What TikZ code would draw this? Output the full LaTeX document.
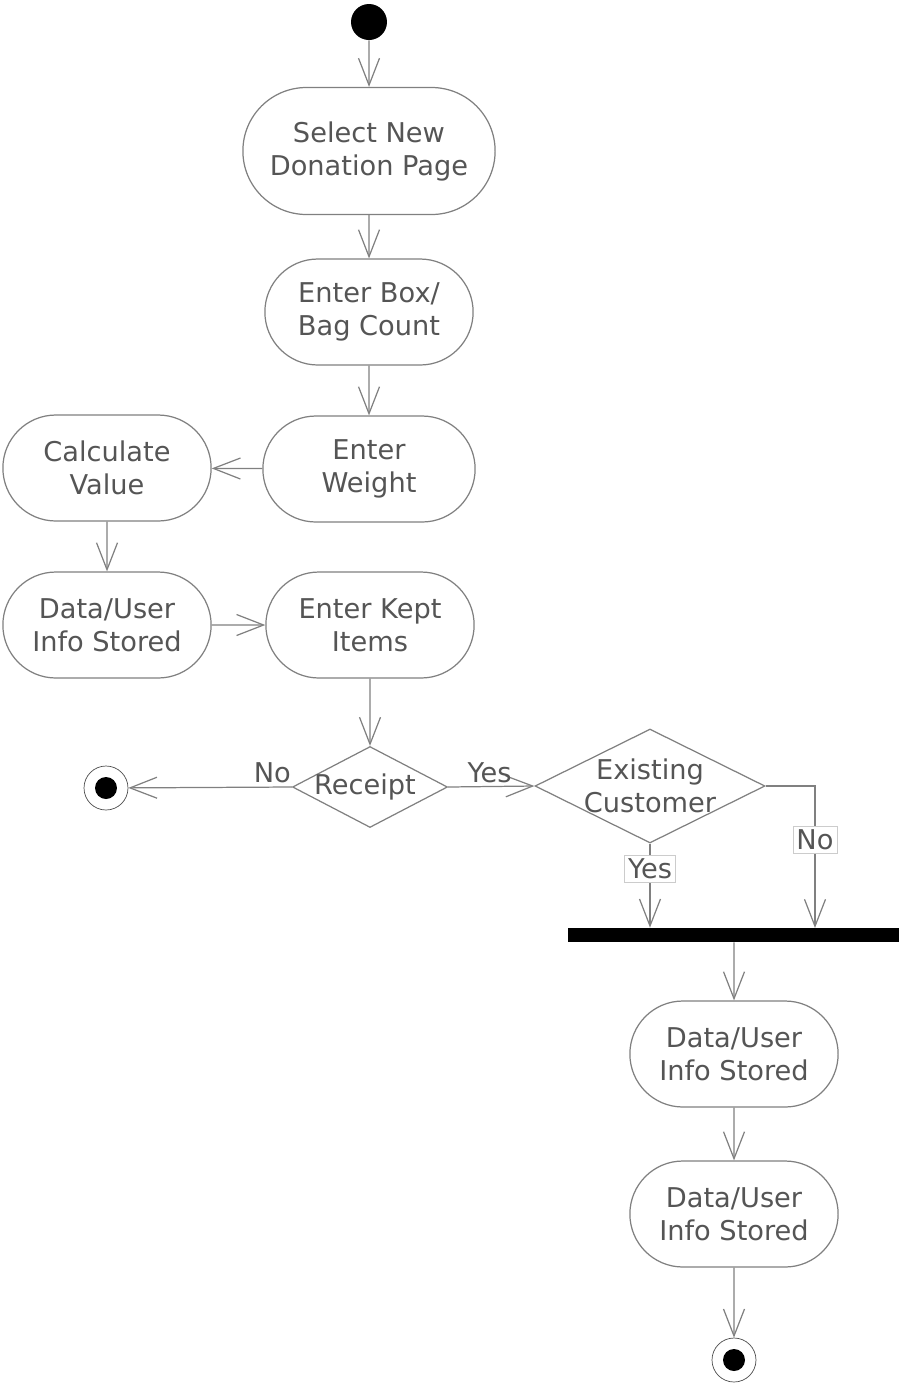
\documentclass[tikz,border=0pt]{standalone}
\usepackage{fontspec}
\setmainfont{DejaVu Sans}
\usetikzlibrary{shapes.misc,shapes.geometric,arrows.meta}
\definecolor{trait}{RGB}{128,128,128}
\definecolor{encre}{RGB}{85,85,85}

\begin{document}
\begin{tikzpicture}[x=0.02cm,y=-0.02cm]
\tikzset{activite/.style={draw=trait, line width=0.7pt, rounded rectangle, minimum width=4.4cm, minimum height=2.12cm, align=center, text=encre, font=\fontsize{15.5}{18.8}\selectfont},
choix/.style={draw=trait, line width=0.7pt, diamond, inner sep=0pt},
debut/.style={circle, fill=black, minimum size=0.72cm, inner sep=0pt},
fin/.style={circle, draw=black!70, line width=0.4pt, minimum size=0.88cm, inner sep=0pt},
pastille/.style={circle, fill=black, minimum size=0.44cm, inner sep=0pt},
barre/.style={rectangle, fill=black, minimum width=6.64cm, minimum height=0.28cm, inner sep=0pt},
fleche/.style={draw=trait, line width=0.7pt, -{Straight Barb[length=0.54cm, width=0.42cm]}},
etiq/.style={text=encre, font=\fontsize{15.5}{18.8}\selectfont, inner sep=2pt},
etiqbox/.style={etiq, fill=white, draw=black!20, line width=0.4pt}}
\useasboundingbox (0,0) rectangle (899,1384);
% noeuds
\node[debut] (S) at (369,22) {};
\node[activite, minimum width=5.28cm, minimum height=2.54cm] (A1) at (369,151) {Select New\\Donation Page};
\node[activite] (A2) at (369,312) {Enter Box/\\Bag Count};
\node[activite, minimum width=4.48cm] (A3) at (369,469) {Enter\\Weight};
\node[activite] (B1) at (107,468) {Calculate\\Value};
\node[activite] (B2) at (107,625) {Data/User\\Info Stored};
\node[activite] (A4) at (370,625) {Enter Kept\\Items};
\node[choix, minimum width=3.1cm, minimum height=1.62cm, label={[etiq, xshift=-0.1cm]center:Receipt}] (R) at (370,787) {};
\node[fin] (F1) at (106,788) {};
\node[pastille] (F1p) at (F1) {};
\node[choix, minimum width=4.6cm, minimum height=2.28cm, label={[etiq, align=center]center:Existing\\Customer}] (E) at (650,786) {};
\node[barre] (J) at (734,935) {};
\coordinate (Jno) at (815,928);
\node[activite] (D1) at (734,1054) {Data/User\\Info Stored};
\node[activite] (D2) at (734,1214) {Data/User\\Info Stored};
\node[fin] (F2) at (734,1360) {};
\node[pastille] (F2p) at (F2) {};
% transitions
\draw[fleche] (S) -- (A1);
\draw[fleche] (A1) -- (A2);
\draw[fleche] (A2) -- (A3);
\draw[fleche] (A3) -- (B1);
\draw[fleche] (B1) -- (B2);
\draw[fleche] (B2) -- (A4);
\draw[fleche] (A4) -- (R);
\draw[fleche] (R.west) -- node[etiq, above, pos=0.12] {No} (F1);
\draw[fleche] (R.east) -- node[etiq, above, pos=0.48] {Yes} (E.west);
\draw[fleche] (E.south) -- node[etiqbox, pos=0.3] {Yes} (E.south |- J.north);
\draw[fleche] (E.east) -| node[etiqbox, pos=0.69] {No} (Jno);
\draw[fleche] (J) -- (D1);
\draw[fleche] (D1) -- (D2);
\draw[fleche] (D2) -- (F2);
\end{tikzpicture}
\end{document}
